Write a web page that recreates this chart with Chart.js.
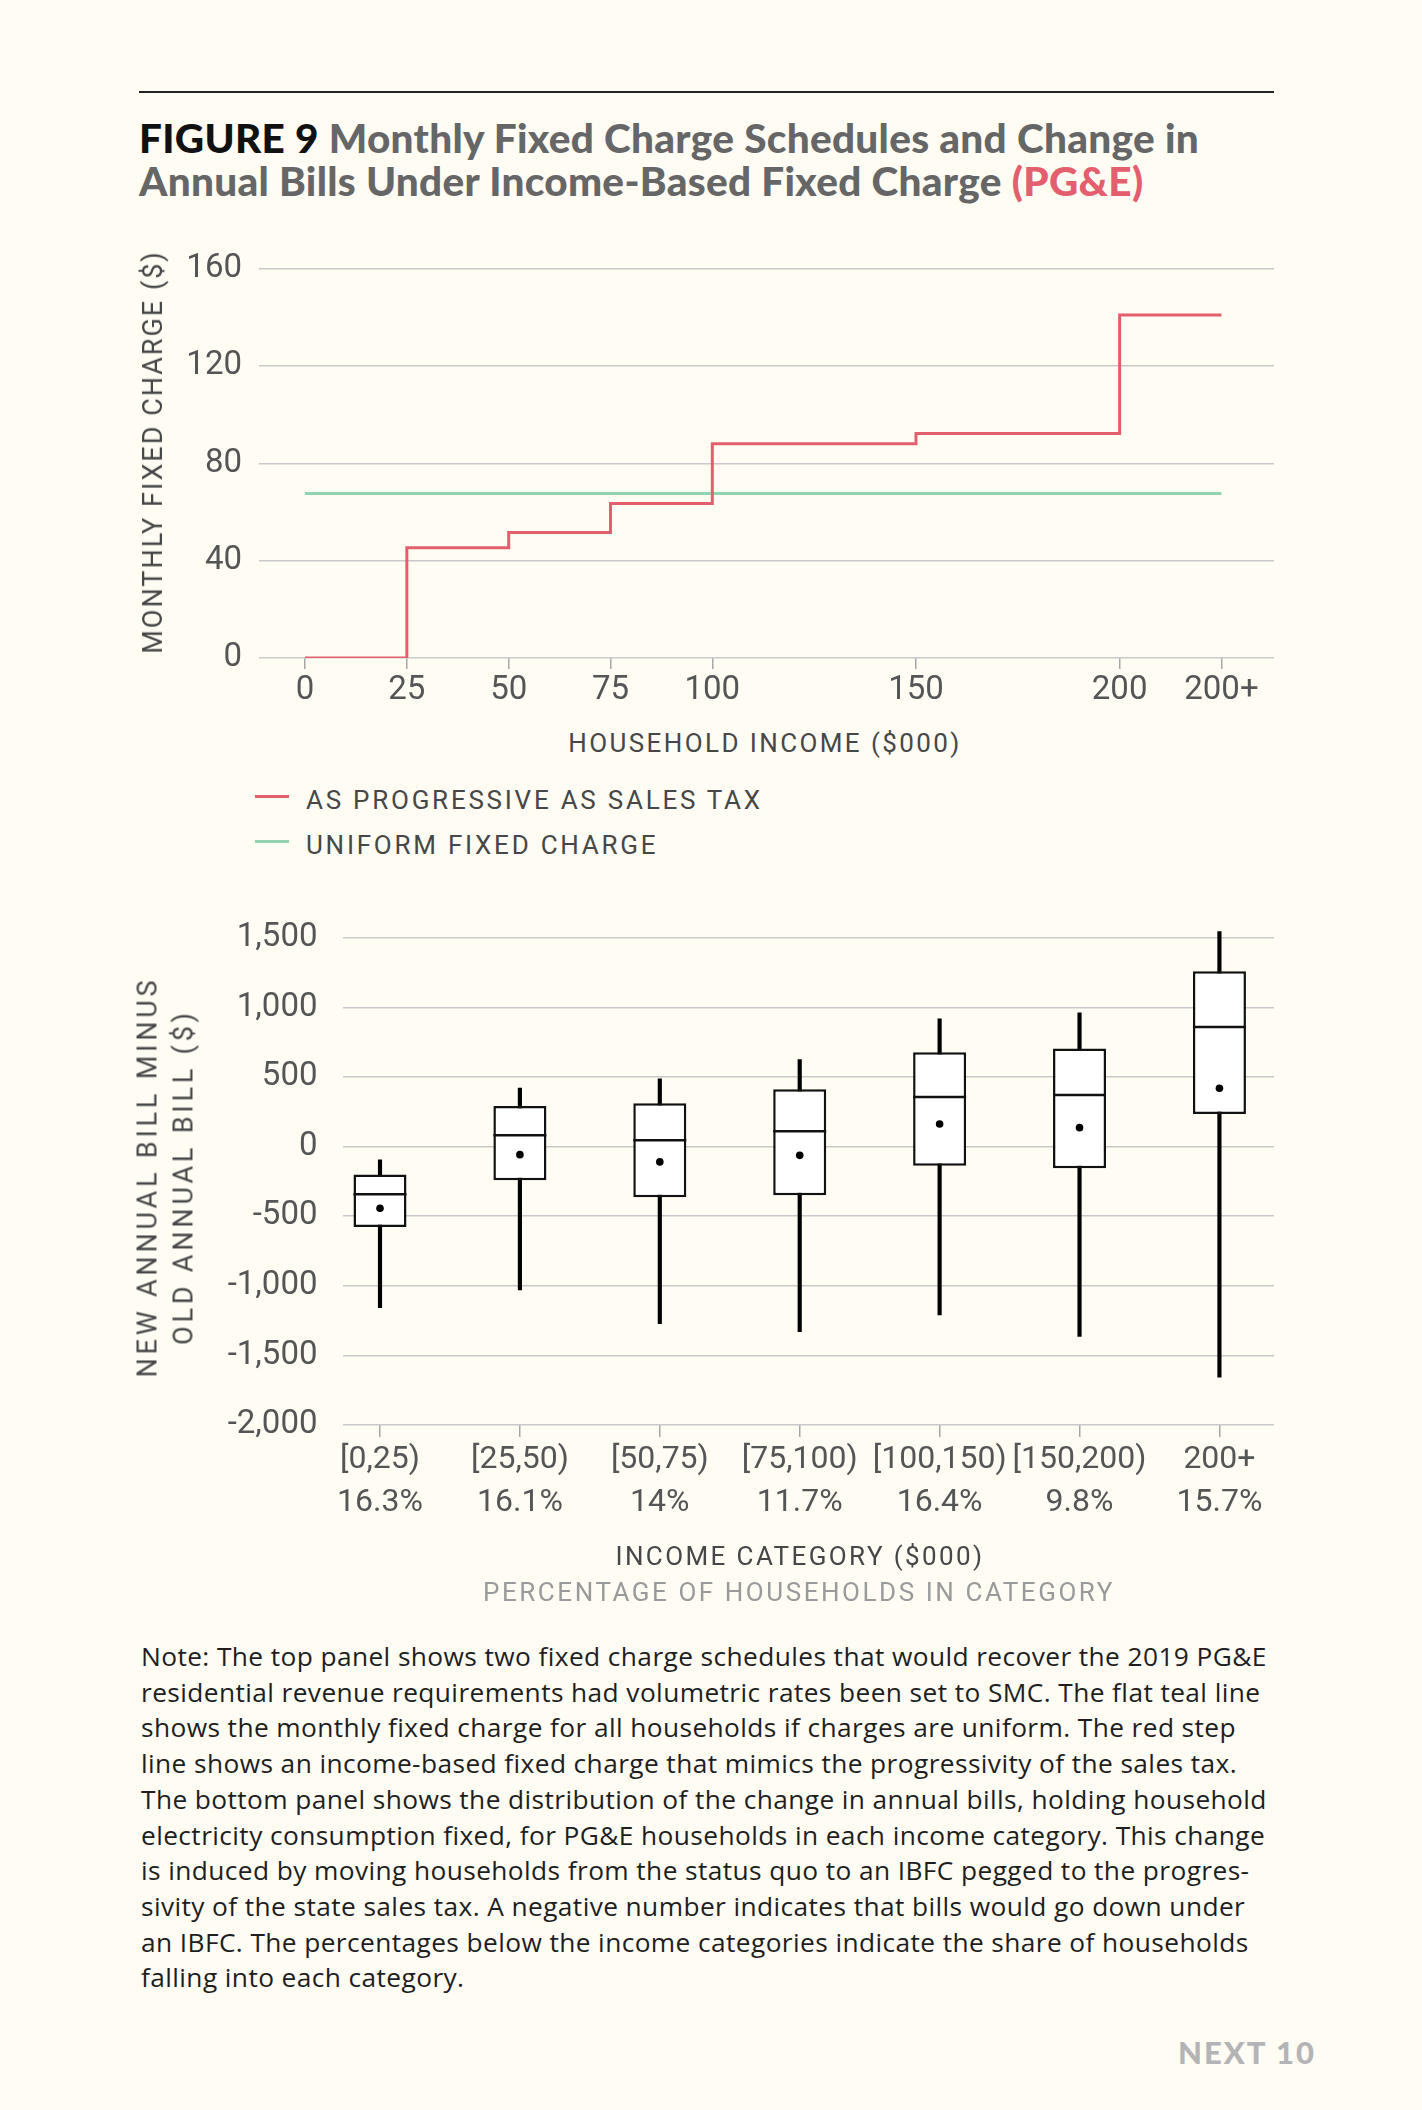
<!DOCTYPE html>
<html>
<head>
<meta charset="utf-8">
<script src="https://cdn.jsdelivr.net/npm/chart.js@4.4.1/dist/chart.umd.min.js"></script>
<style>
  html, body { margin: 0; padding: 0; background: #fefcf3; }
  #page { position: relative; width: 1422px; height: 2110px; background: #fefcf3; overflow: hidden; font-family: Roboto, sans-serif; }
  .abs { position: absolute; }
  #rule { left: 139px; top: 91px; width: 1135px; height: 2px; background: #222; }
  #title { left: 139px; top: 117px; font-family: Lato, sans-serif; font-weight: 900; font-size: 40.5px; line-height: 42.5px; letter-spacing: 0.3px; color: #666; white-space: nowrap; }
  #title .fig { color: #111; }
  #title .co { color: #e35f6e; }
  canvas { position: absolute; left: 0; }
  .cap { font-family: Roboto, sans-serif; font-size: 26px; letter-spacing: 2.4px; color: #474747; white-space: nowrap; line-height: 30px; }
  .ctr { width: 800px; text-align: center; }
  .rot { transform: translate(-50%, -50%) rotate(-90deg); white-space: nowrap; font-family: Roboto, sans-serif; font-size: 27px; color: #474747; text-align: center; }
  .sw { position: absolute; left: 255px; width: 34px; height: 3px; }
  #note { left: 141px; top: 1639px; font-family: "Open Sans", sans-serif; font-size: 26.3px; line-height: 35.7px; letter-spacing: 0.4px; color: #1e1e1e; white-space: nowrap; }
  #footer { left: 1178px; top: 2037px; font-family: Lato, sans-serif; font-weight: 900; font-size: 31px; line-height: 30px; letter-spacing: 2px; color: #b4b4b7; white-space: nowrap; }
</style>
</head>
<body>
<div id="page">
  <div id="rule" class="abs"></div>
  <div id="title" class="abs"><span class="fig">FIGURE 9</span> Monthly Fixed Charge Schedules and Change in<br>Annual Bills Under Income-Based Fixed Charge <span class="co">(PG&amp;E)</span></div>

  <canvas id="topChart" width="1422" height="480" style="top:232px;width:1422px;height:480px;"></canvas>
  <div class="abs rot" style="left:153px;top:452px;letter-spacing:2px;">MONTHLY FIXED CHARGE ($)</div>
  <div class="abs cap ctr" style="left:365px;top:728px;">HOUSEHOLD INCOME ($000)</div>

  <div class="sw" style="top:795px;background:#e35f6e;"></div>
  <div class="abs cap" style="left:306px;top:784.5px;letter-spacing:2.75px;">AS PROGRESSIVE AS SALES TAX</div>
  <div class="sw" style="top:840px;background:#93d4b0;"></div>
  <div class="abs cap" style="left:306px;top:829.5px;letter-spacing:2.75px;">UNIFORM FIXED CHARGE</div>

  <canvas id="bottomChart" width="1422" height="660" style="top:882px;width:1422px;height:660px;"></canvas>
  <div class="abs rot" style="left:166px;top:1177px;letter-spacing:3.8px;line-height:35.5px;">NEW ANNUAL BILL MINUS<br>OLD ANNUAL BILL ($)</div>
  <div class="abs cap ctr" style="left:400px;top:1541px;">INCOME CATEGORY ($000)</div>
  <div class="abs cap ctr" style="left:399px;top:1577px;color:#9a9a9a;letter-spacing:2.55px;">PERCENTAGE OF HOUSEHOLDS IN CATEGORY</div>

  <div id="note" class="abs">Note: The top panel shows two fixed charge schedules that would recover the 2019 PG&amp;E<br>residential revenue requirements had volumetric rates been set to SMC. The flat teal line<br>shows the monthly fixed charge for all households if charges are uniform. The red step<br>line shows an income-based fixed charge that mimics the progressivity of the sales tax.<br>The bottom panel shows the distribution of the change in annual bills, holding household<br>electricity consumption fixed, for PG&amp;E households in each income category. This change<br>is induced by moving households from the status quo to an IBFC pegged to the progres-<br>sivity of the state sales tax. A negative number indicates that bills would go down under<br>an IBFC. The percentages below the income categories indicate the share of households<br>falling into each category.</div>
  <div id="footer" class="abs">NEXT 10</div>
</div>

<script>
// ---------- Top panel data ----------
const incomeSteps = [0, 25, 50, 75, 100, 150, 200, 225];          // $000, step starts
const progressiveCharge = [0, 45.3, 51.6, 63.5, 88.1, 92.3, 141.0, 141.0]; // $/month
const uniformIncome = [0, 225];
const uniformCharge = [67.6, 67.6];
const incomeTickValues = [0, 25, 50, 75, 100, 150, 200, 225];
const incomeTickLabels = ['0', '25', '50', '75', '100', '150', '200', '200+'];
const chargeTicks = [0, 40, 80, 120, 160];

// ---------- Bottom panel data ----------
const categories = ['[0,25)', '[25,50)', '[50,75)', '[75,100)', '[100,150)', '[150,200)', '200+'];
const householdShares = ['16.3%', '16.1%', '14%', '11.7%', '16.4%', '9.8%', '15.7%'];
const categoryPos = [1, 2, 3, 4, 5, 6, 7];
const whiskerLow  = [-1157, -1030, -1272, -1329, -1210, -1363, -1657];
const q1          = [-577, -242, -364, -350, -137, -156, 234];
const median      = [-343, 81, 45, 110, 356, 371, 859];
const mean        = [-443, -58, -110, -63, 162, 136, 419];
const q3          = [-201, 292, 311, 412, 677, 704, 1259];
const whiskerHigh = [-96, 421, 486, 625, 917, 960, 1545];
const billTicks = [-2000, -1500, -1000, -500, 0, 500, 1000, 1500];

const RED = '#e35f6e';
const GREEN = '#93d4b0';
const TICK_COLOR = '#555555';
const GRID_COLOR = '#c9c9c9';
const AXIS_TICK_COLOR = '#a8a8a8';

Chart.defaults.font.family = 'Roboto, sans-serif';

new Chart(document.getElementById('topChart'), {
  type: 'line',
  data: {
    datasets: [
      {
        label: 'AS PROGRESSIVE AS SALES TAX',
        data: incomeSteps.map((x, i) => ({ x: x, y: progressiveCharge[i] })),
        borderColor: RED, borderWidth: 3, stepped: 'before',
        pointRadius: 0, fill: false, order: 1
      },
      {
        label: 'UNIFORM FIXED CHARGE',
        data: uniformIncome.map((x, i) => ({ x: x, y: uniformCharge[i] })),
        borderColor: GREEN, borderWidth: 3,
        pointRadius: 0, fill: false, order: 2
      }
    ]
  },
  options: {
    responsive: false, animation: false, events: [],
    layout: { padding: { top: 36, right: 148, left: 0, bottom: 0 } },
    plugins: { legend: { display: false }, tooltip: { enabled: false } },
    scales: {
      x: {
        type: 'linear', min: -11.3, max: 237.9, offset: false,
        afterFit(s) { s.height = 54; },
        afterBuildTicks(s) { s.ticks = incomeTickValues.map(v => ({ value: v })); },
        ticks: {
          autoSkip: false, maxRotation: 0, minRotation: 0, padding: 2, color: TICK_COLOR,
          font: { size: 33, lineHeight: 1.2 },
          callback: (v, i) => incomeTickLabels[i]
        },
        grid: { drawOnChartArea: false, drawTicks: true, tickLength: 11, color: AXIS_TICK_COLOR, lineWidth: 1.5 },
        border: { display: false }
      },
      y: {
        min: 0, max: 160,
        afterFit(s) { s.width = 259; },
        afterBuildTicks(s) { s.ticks = chargeTicks.map(v => ({ value: v })); },
        ticks: { padding: 17, color: TICK_COLOR, font: { size: 33 } },
        grid: { color: GRID_COLOR, lineWidth: 1.5, drawTicks: false },
        border: { display: false }
      }
    }
  }
});

new Chart(document.getElementById('bottomChart'), {
  type: 'bar',
  data: {
    datasets: [
      {
        type: 'bar', label: 'whiskers',
        data: categoryPos.map((x, i) => ({ x: x, y: [whiskerLow[i], whiskerHigh[i]] })),
        backgroundColor: '#000', borderWidth: 0, barThickness: 3.5, grouped: false, order: 4
      },
      {
        type: 'bar', label: 'interquartile range',
        data: categoryPos.map((x, i) => ({ x: x, y: [q1[i], q3[i]] })),
        backgroundColor: '#ffffff', borderColor: '#111', borderWidth: 2.5, borderSkipped: false,
        grouped: false, categoryPercentage: 1, barPercentage: 0.379, order: 3
      },
      {
        type: 'line', label: 'median',
        data: categoryPos.map((x, i) => ({ x: x, y: median[i] })),
        showLine: false, pointStyle: 'line', pointRadius: 26.5, pointBorderWidth: 2.5,
        borderColor: '#111', pointBorderColor: '#111', order: 2
      },
      {
        type: 'line', label: 'mean',
        data: categoryPos.map((x, i) => ({ x: x, y: mean[i] })),
        showLine: false, pointStyle: 'circle', pointRadius: 3.8,
        pointBackgroundColor: '#000', pointBorderWidth: 0, borderColor: '#000', order: 1
      }
    ]
  },
  options: {
    responsive: false, animation: false, events: [],
    layout: { padding: { top: 47.4, right: 148, left: 0, bottom: 0 } },
    plugins: { legend: { display: false }, tooltip: { enabled: false } },
    scales: {
      x: {
        type: 'linear', min: 0.732, max: 7.39, offset: false,
        afterFit(s) { s.height = 117; },
        afterBuildTicks(s) { s.ticks = categoryPos.map(v => ({ value: v })); },
        ticks: {
          autoSkip: false, maxRotation: 0, minRotation: 0, padding: 2, color: TICK_COLOR,
          font: { size: 32, lineHeight: 1.34 },
          callback: (v, i) => [categories[i], householdShares[i]]
        },
        grid: { drawOnChartArea: false, offset: false, tickLength: 12, color: AXIS_TICK_COLOR, lineWidth: 1.5 },
        border: { display: false }
      },
      y: {
        min: -2000, max: 1560,
        afterFit(s) { s.width = 342.5; },
        afterBuildTicks(s) { s.ticks = billTicks.map(v => ({ value: v })); },
        ticks: { padding: 25, color: TICK_COLOR, font: { size: 33 }, callback: v => v.toLocaleString('en-US') },
        grid: { color: GRID_COLOR, lineWidth: 1.5, drawTicks: false },
        border: { display: false }
      }
    }
  }
});
</script>
</body>
</html>
